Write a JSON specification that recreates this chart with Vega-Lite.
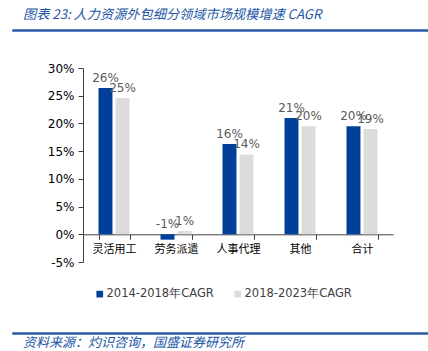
{
  "$schema": "https://vega.github.io/schema/vega-lite/v6.json",
  "padding": {"left": 12, "top": 7, "right": 0, "bottom": 0},
  "background": "white",
  "config": {"view": {"stroke": null}, "font": "DejaVu Sans"},
  "spacing": 30,
  "vconcat": [
    {
      "width": 416,
      "height": 1,
      "view": {"stroke": "#2a59a6", "strokeWidth": 1.5},
      "title": {"text": "图表 23:  人力资源外包细分领域市场规模增速 CAGR", "anchor": "start", "frame": "group", "dx": 10, "offset": 8, "font": "Noto Sans CJK SC", "fontStyle": "italic", "fontWeight": "normal", "fontSize": 13.2, "color": "#2255a4"},
      "data": {"values": []},
      "mark": "point"
    },
    {
      "width": 380,
      "height": 194,
      "data": {"values": [
        {"cat": "灵活用工", "series": "2014-2018年CAGR", "value": 26.4},
        {"cat": "灵活用工", "series": "2018-2023年CAGR", "value": 24.6},
        {"cat": "劳务派遣", "series": "2014-2018年CAGR", "value": -0.97},
        {"cat": "劳务派遣", "series": "2018-2023年CAGR", "value": 0.6},
        {"cat": "人事代理", "series": "2014-2018年CAGR", "value": 16.3},
        {"cat": "人事代理", "series": "2018-2023年CAGR", "value": 14.4},
        {"cat": "其他", "series": "2014-2018年CAGR", "value": 21.0},
        {"cat": "其他", "series": "2018-2023年CAGR", "value": 19.5},
        {"cat": "合计", "series": "2014-2018年CAGR", "value": 19.5},
        {"cat": "合计", "series": "2018-2023年CAGR", "value": 19.0}
      ]},
      "transform": [
        {"calculate": "round(datum.value) + '%'", "as": "label"},
        {"calculate": "max(datum.value, 0)", "as": "labelPos"}
      ],
      "encoding": {
        "x": {
          "field": "cat", "type": "nominal", "sort": null,
          "scale": {"range": [70, 380], "paddingInner": 0.5, "paddingOuter": 0.25},
          "axis": {"title": " ", "titlePadding": 36, "titleFontSize": 11, "offset": -27.7, "labelAngle": 0, "domainColor": "#404040", "tickColor": "#404040", "tickBand": "extent", "tickSize": 5, "labelFont": "Noto Sans CJK SC", "labelFontSize": 11, "labelColor": "#000000", "labelPadding": 4}
        },
        "xOffset": {"field": "series", "type": "nominal", "scale": {"paddingInner": 0.18}}
      },
      "layer": [
        {
          "mark": {"type": "bar"},
          "encoding": {
            "y": {
              "field": "value", "type": "quantitative",
              "scale": {"domain": [-5, 30], "nice": false},
              "axis": {"title": null, "offset": -70, "values": [-5, 0, 5, 10, 15, 20, 25, 30], "labelOverlap": false, "labelExpr": "datum.value + '%'", "grid": false, "domainColor": "#404040", "tickColor": "#404040", "tickSize": 5, "labelFontSize": 12, "labelColor": "#000000", "labelPadding": 4}
            },
            "color": {
              "field": "series", "type": "nominal",
              "scale": {"range": ["#003f9a", "#dcdcdc"]},
              "legend": {"title": null, "orient": "none", "legendX": 77, "legendY": 254, "direction": "horizontal", "symbolType": "square", "symbolSize": 45, "symbolStrokeWidth": 0, "labelFontSize": 11.5, "labelColor": "#404040", "labelOffset": 1, "columnPadding": 18, "padding": 4}
            }
          }
        },
        {
          "mark": {"type": "text", "baseline": "bottom", "dy": -3, "fontSize": 12, "color": "#595959"},
          "encoding": {
            "y": {
              "field": "labelPos", "type": "quantitative",
              "scale": {"domain": [-5, 30], "nice": false},
              "axis": {"title": null, "offset": -70, "values": [-5, 0, 5, 10, 15, 20, 25, 30], "labelOverlap": false, "labelExpr": "datum.value + '%'", "grid": false, "domainColor": "#404040", "tickColor": "#404040", "tickSize": 5, "labelFontSize": 12, "labelColor": "#000000", "labelPadding": 4}
            },
            "text": {"field": "label"}
          }
        }
      ]
    },
    {
      "width": 416,
      "height": 1,
      "view": {"stroke": "#2a59a6", "strokeWidth": 1.5},
      "title": {"text": "资料来源：灼识咨询，国盛证券研究所", "orient": "bottom", "anchor": "start", "frame": "group", "dx": 10, "offset": 3, "font": "Noto Sans CJK SC", "fontStyle": "italic", "fontWeight": "normal", "fontSize": 13, "color": "#2255a4"},
      "data": {"values": []},
      "mark": "point"
    }
  ]
}
